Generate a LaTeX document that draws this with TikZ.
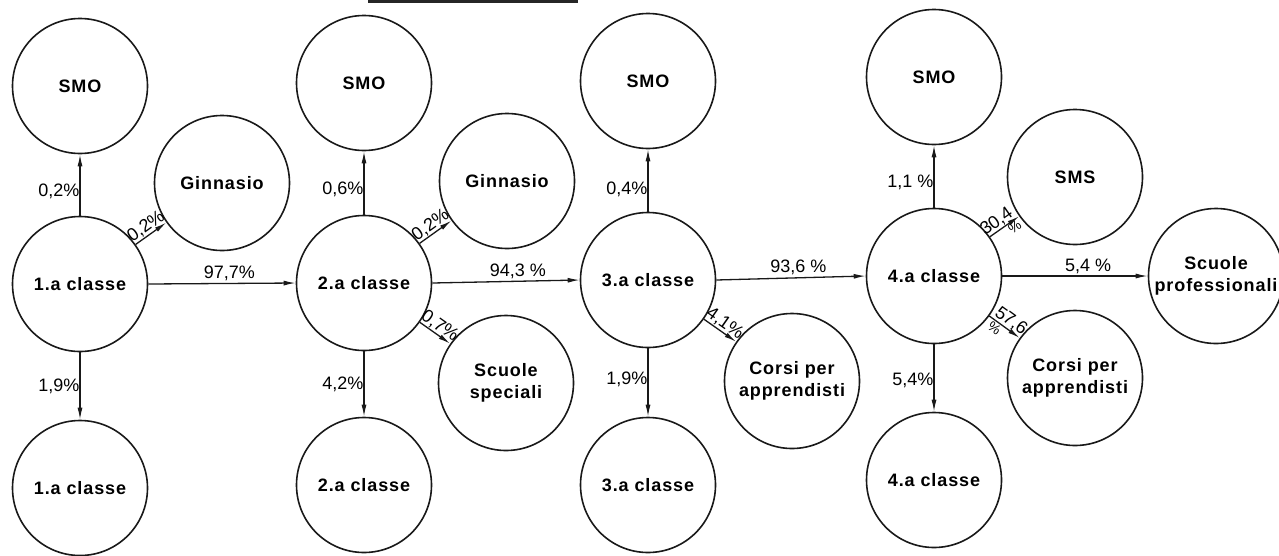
\documentclass[tikz,border=0pt]{standalone}
\usepackage{fontspec}
\setmainfont{Liberation Sans}
\newfontfamily\nodefont[LetterSpace=5]{Liberation Sans}
\usetikzlibrary{arrows.meta}
\begin{document}
\begin{tikzpicture}[x=1pt,y=-1pt,
  st/.style={circle, draw=black!90, line width=1.6pt, minimum size=135pt, inner sep=0pt,
    align=center, font=\nodefont\bfseries\fontsize{18}{22}\selectfont},
  arr/.style={draw=black!90, line width=1.3pt, -{Latex[length=12pt,width=5pt]}},
  pct/.style={font=\fontsize{18}{20}\selectfont, inner sep=2pt},
  vl/.style={pct, left, inner sep=0pt}]
\fill[white] (0,0) rectangle (1279,555);
\useasboundingbox (0,0) rectangle (1279,555);
\fill[black!85] (368,0) rectangle (578,3);

% column 1
\node[st] (c1) at (80,284) {1.a classe};
\node[st] (s1) at (80,86) {SMO};
\node[st] (g1) at (222,183) {Ginnasio};
\node[st] (b1) at (80,488) {1.a classe};
% column 2
\node[st] (c2) at (364,283) {2.a classe};
\node[st] (s2) at (364,83) {SMO};
\node[st] (g2) at (507,181) {Ginnasio};
\node[st] (sp) at (506,383) {Scuole\\speciali};
\node[st] (b2) at (364,485) {2.a classe};
% column 3
\node[st] (c3) at (648,280) {3.a classe};
\node[st] (s3) at (648,81) {SMO};
\node[st] (cp1) at (792,381) {Corsi per\\apprendisti};
\node[st] (b3) at (648,485) {3.a classe};
% column 4
\node[st] (c4) at (934,276) {4.a classe};
\node[st] (s4) at (934,77) {SMO};
\node[st] (sms) at (1075,177) {SMS};
\node[st] (cp2) at (1075,378) {Corsi per\\apprendisti};
\node[st] (b4) at (934,480) {4.a classe};
\node[st] (pr) at (1216,276) {Scuole\\professionali};

% vertical arrows
\draw[arr] (c1.north) -- node[vl, pos=0.4] {0,2\%} (s1.south);
\draw[arr] (c1.south) -- node[vl, pos=0.5] {1,9\%} (b1.north);
\draw[arr] (c2.north) -- node[vl, pos=0.4] {0,6\%} (s2.south);
\draw[arr] (c2.south) -- node[vl, pos=0.5] {4,2\%} (b2.north);
\draw[arr] (c3.north) -- node[vl, pos=0.35] {0,4\%} (s3.south);
\draw[arr] (c3.south) -- node[vl, pos=0.46] {1,9\%} (b3.north);
\draw[arr] (c4.north) -- node[vl, pos=0.4] {1,1 \%} (s4.south);
\draw[arr] (c4.south) -- node[vl, pos=0.53] {5,4\%} (b4.north);

% horizontal arrows
\draw[arr] (c1.east) -- node[pct, above, pos=0.55] {97,7\%} (c2.west);
\draw[arr] (c2.east) -- node[pct, above, pos=0.58] {94,3 \%} (c3.west);
\draw[arr] (c3.east) -- node[pct, above, pos=0.55] {93,6 \%} (c4.west);
\draw[arr] (c4.east) -- node[pct, above, pos=0.59] {5,4 \%} (pr.west);

% diagonal arrows
\draw[arr] (c1) -- node[pct, sloped, above, inner sep=0.5pt] {0,2\%} (g1);
\draw[arr] (c2) -- node[pct, sloped, above, inner sep=0.5pt] {0,2\%} (g2);
\draw[arr] (c2) -- node[pct, sloped, above, inner sep=0.5pt] {0,7\%} (sp);
\draw[arr] (c3) -- node[pct, sloped, above, inner sep=0.5pt] {4,1\%} (cp1);
\draw[arr] (c4) -- node[pct, sloped, above, inner sep=0.5pt, pos=0.4] {30,4}
  node[pct, sloped, below, inner sep=1pt, pos=0.72, font=\fontsize{14}{16}\selectfont] {\%} (sms);
\draw[arr] (c4) -- node[pct, sloped, above, inner sep=0.5pt, pos=0.55] {57,6}
  node[pct, sloped, below, inner sep=1pt, pos=0.3, font=\fontsize{14}{16}\selectfont] {\%} (cp2);
\end{tikzpicture}
\end{document}
